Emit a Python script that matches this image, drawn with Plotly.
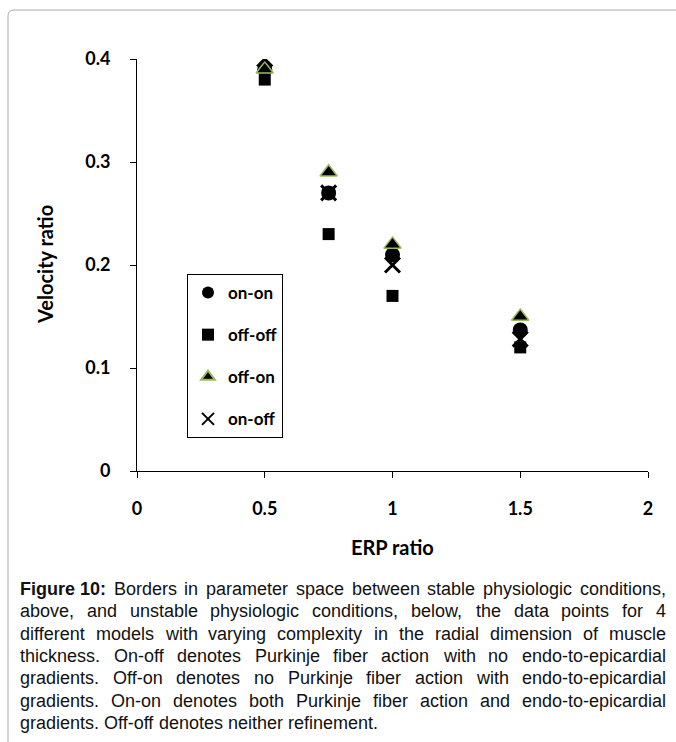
import plotly.graph_objects as go

erp = [0.5, 0.75, 1.0, 1.5]
on_on = [0.39, 0.27, 0.21, 0.137]
off_off = [0.38, 0.23, 0.17, 0.12]
off_on = [0.39, 0.29, 0.22, 0.15]
on_off = [0.40, 0.27, 0.20, 0.128]

x_ticks = [0, 0.5, 1, 1.5, 2]
x_tick_labels = ["0", "0.5", "1", "1.5", "2"]
y_ticks = [0, 0.1, 0.2, 0.3, 0.4]
y_tick_labels = ["0", "0.1", "0.2", "0.3", "0.4"]

caption_lines = [
    "Figure 10: Borders in parameter space between stable physiologic conditions,",
    "above, and unstable physiologic conditions, below, the data points for 4",
    "different models with varying complexity in the radial dimension of muscle",
    "thickness. On-off denotes Purkinje fiber action with no endo-to-epicardial",
    "gradients. Off-on denotes no Purkinje fiber action with endo-to-epicardial",
    "gradients. On-on denotes both Purkinje fiber action and endo-to-epicardial",
    "gradients. Off-off denotes neither refinement.",
]

W, H = 676, 742
L, R, T, B = 137, 648, 59, 471
pw, ph = R - L, B - T


def px(X):
    return (X - L) / pw


def py(Y):
    return (B - Y) / ph


# Arial / Liberation Sans advance widths (1/1000 em) for text layout of the caption
REG = {" ": 278, ",": 278, "-": 333, ".": 278, ":": 278, "0": 556, "1": 556, "4": 556,
       "A": 667, "B": 667, "C": 722, "D": 722, "E": 667, "F": 611, "G": 778, "H": 722,
       "I": 278, "J": 500, "K": 667, "L": 556, "M": 833, "N": 722, "O": 778, "P": 667,
       "R": 722, "S": 667, "T": 611,
       "a": 556, "b": 556, "c": 500, "d": 556, "e": 556, "f": 278, "g": 556, "h": 556,
       "i": 222, "j": 222, "k": 500, "l": 222, "m": 833, "n": 556, "o": 556, "p": 556,
       "q": 556, "r": 333, "s": 500, "t": 278, "u": 556, "v": 500, "w": 722, "x": 500,
       "y": 500, "z": 500}
BOLD = {"F": 611, "i": 278, "g": 611, "u": 611, "r": 389, "e": 556, "1": 556, "0": 556,
        ":": 333, " ": 278}

CAP_FS = 18
CAP_X0, CAP_X1 = 18, 664


def word_width(w, bold=False):
    tbl = BOLD if bold else REG
    return sum(tbl.get(c, 556) for c in w) * CAP_FS / 1000.0


fig = go.Figure()
fig.add_trace(go.Scatter(x=erp, y=on_on, mode="markers", name="on-on", legendgroup="a",
                         marker=dict(symbol="circle", size=15, color="black")))
fig.add_trace(go.Scatter(x=erp, y=off_off, mode="markers", name="off-off", legendgroup="b",
                         marker=dict(symbol="square", size=12, color="black")))
fig.add_trace(go.Scatter(x=erp, y=off_on, mode="markers", name="off-on", legendgroup="c",
                         marker=dict(symbol="triangle-up", size=15, color="black",
                                     line=dict(color="#9bbb59", width=1.5))))
fig.add_trace(go.Scatter(x=erp, y=on_off, mode="markers", name="on-off", legendgroup="d",
                         marker=dict(symbol="x-thin", size=15, color="black",
                                     line=dict(color="black", width=3))))

tickfont = dict(family="Lato, Open Sans, sans-serif", size=18, color="black")
fig.update_xaxes(range=[0, 2], tickvals=x_ticks, ticktext=[f"<b>{t}</b>" for t in x_tick_labels],
                 showgrid=False, zeroline=False, showline=True, linecolor="black", linewidth=1,
                 ticks="outside", ticklen=6, tickcolor="black", tickfont=tickfont,
                 ticklabelstandoff=15)
fig.update_yaxes(range=[0, 0.4], tickvals=y_ticks, ticktext=[f"<b>{t}</b>" for t in y_tick_labels],
                 showgrid=False, zeroline=False, showline=True, linecolor="black", linewidth=1,
                 ticks="outside", ticklen=6, tickcolor="black", tickfont=tickfont,
                 ticklabelstandoff=16)

ann = [
    dict(text="<b>Velocity ratio</b>", x=px(45), y=py(265), xref="paper", yref="paper",
         xanchor="center", yanchor="middle",
         showarrow=False, textangle=-90, font=dict(family="Lato, sans-serif", size=20, color="black")),
    dict(text="<b>ERP ratio</b>", x=px(392), y=py(547), xref="paper", yref="paper",
         xanchor="center", yanchor="middle",
         showarrow=False, font=dict(family="Lato, sans-serif", size=20, color="black")),
]

cap_font = dict(family="Liberation Sans, Arial, sans-serif", size=CAP_FS, color="#111111")
y0 = 589
for i, line in enumerate(caption_lines):
    raw = line.split(" ")
    if i == 0:
        words = [("Figure 10:", True)] + [(w, False) for w in raw[2:]]
    else:
        words = [(w, False) for w in raw]
    widths = [word_width(w, b) for w, b in words]
    last = i == len(caption_lines) - 1
    if last:
        gap = REG[" "] * CAP_FS / 1000.0
    else:
        gap = (CAP_X1 - CAP_X0 - sum(widths)) / (len(words) - 1)
    xcur = CAP_X0
    yy = y0 + i * 22.3
    for (w, b), wd in zip(words, widths):
        ann.append(dict(text=f"<b>{w}</b>" if b else w, x=px(xcur), y=py(yy),
                        xref="paper", yref="paper", xanchor="left", yanchor="middle",
                        showarrow=False, font=cap_font))
        xcur += wd + gap

# outer frame (left + top edges with rounded corner)
r = 6
frame = (f"M {px(8)},{py(742)} L {px(8)},{py(10 + r)} "
         f"Q {px(8)},{py(10)} {px(8 + r)},{py(10)} L {px(676)},{py(10)}")

fig.update_layout(
    width=W, height=H, margin=dict(l=L, r=W - R, t=T, b=H - B),
    paper_bgcolor="white", plot_bgcolor="white",
    annotations=ann,
    shapes=[dict(type="path", path=frame, xref="paper", yref="paper",
                 line=dict(color="#aaaaaa", width=1))],
    legend=dict(x=px(187), y=py(274), xanchor="left", yanchor="top",
                bordercolor="black", borderwidth=1, bgcolor="white",
                tracegroupgap=17, itemsizing="constant", itemwidth=30,
                font=dict(family="Lato, sans-serif", size=17, color="black", weight="bold"),
                traceorder="grouped"),
    showlegend=True,
)
fig.write_html("out.html")
